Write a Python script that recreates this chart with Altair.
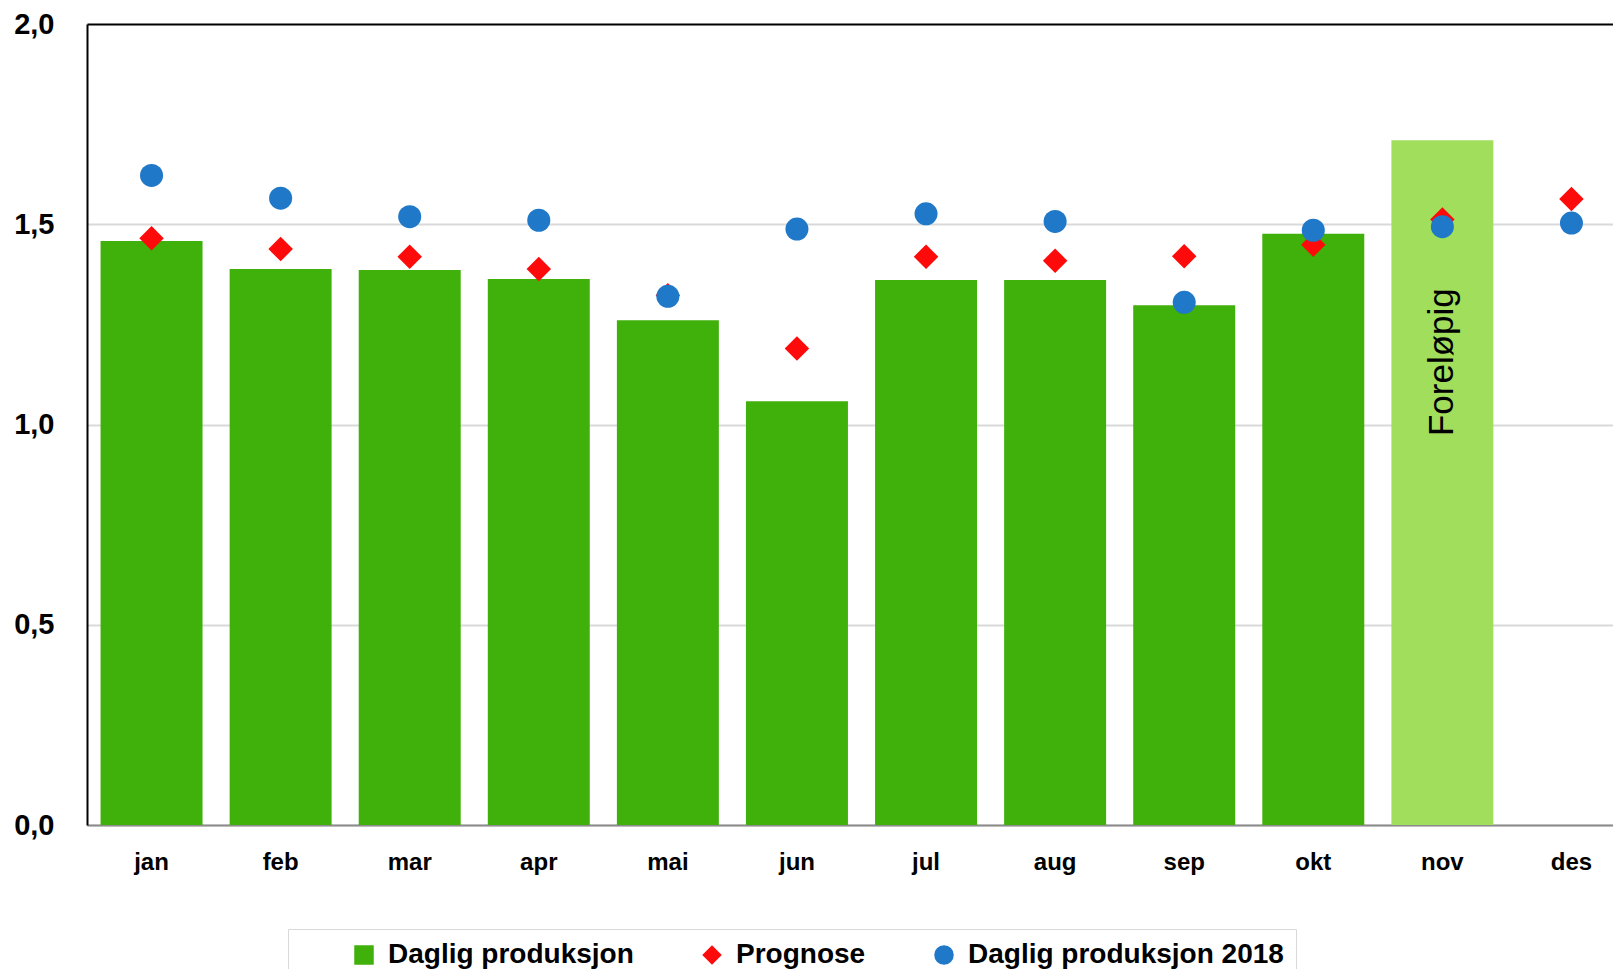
import altair as alt
import pandas as pd

maaneder = ["jan", "feb", "mar", "apr", "mai", "jun", "jul", "aug", "sep", "okt", "nov", "des"]
daglig = [1.458, 1.388, 1.386, 1.363, 1.260, 1.058, 1.361, 1.361, 1.298, 1.476, 1.710, None]
foreloepig = [False] * 10 + [True, False]
merknad = [""] * 10 + ["Foreløpig", ""]
prognose = [1.465, 1.438, 1.419, 1.388, 1.323, 1.190, 1.419, 1.409, 1.420, 1.449, 1.512, 1.563]
daglig_2018 = [1.622, 1.565, 1.519, 1.510, 1.320, 1.488, 1.526, 1.507, 1.305, 1.485, 1.494, 1.503]
serier = ["Daglig produksjon", "Prognose", "Daglig produksjon 2018"]
farger = ["#3FB10A", "#FF0A0A", "#1F78C8"]
former = ["square", "diamond", "circle"]
y_ticks = [0, 0.5, 1.0, 1.5, 2.0]

bar_df = pd.DataFrame({"maaned": maaneder, "verdi": daglig, "foreloepig": foreloepig,
                       "merknad": merknad, "serie": serier[0]}).dropna(subset=["verdi"])
prog_df = pd.DataFrame({"maaned": maaneder, "verdi": prognose, "serie": serier[1]})
p18_df = pd.DataFrame({"maaned": maaneder, "verdi": daglig_2018, "serie": serier[2]})

FONT = "Liberation Sans"

x_enc = alt.X("maaned:N", sort=maaneder,
              scale=alt.Scale(domain=maaneder, range=[0, 1549], paddingInner=0.21, paddingOuter=0.105),
              axis=alt.Axis(title=None, labelAngle=0, labelFontSize=24, labelFontWeight="bold",
                            labelColor="black", labelFont=FONT, labelPadding=25, ticks=False, tickSize=0,
                            domainColor="#8C8C8C", domainWidth=2, labelBaseline="top"))

y_axis = alt.Axis(title=None, values=y_ticks,
                  labelExpr="replace(format(datum.value, '.1f'), '.', ',')",
                  labelFontSize=29, labelFontWeight="bold", labelColor="black", labelFont=FONT,
                  labelPadding=33, ticks=False, tickSize=0, domainColor="black", domainWidth=2,
                  gridColor={"condition": {"test": "datum.value == 2", "value": "black"}, "value": "#D9D9D9"},
                  gridWidth=2)
y_enc = alt.Y("verdi:Q", scale=alt.Scale(domain=[0, 2], nice=False, zero=True), axis=y_axis)

color_scale = alt.Scale(domain=serier, range=farger)
shape_scale = alt.Scale(domain=serier, range=former)

bars = alt.Chart(bar_df).mark_bar().encode(
    x=x_enc,
    y=y_enc,
    color=alt.condition(alt.datum.foreloepig,
                        alt.value("#A0DE5C"),
                        alt.Color("serie:N", scale=color_scale, legend=alt.Legend(title=None))),
)

tekst = alt.Chart(bar_df).transform_filter(alt.datum.foreloepig).mark_text(
    angle=270, dx=-222, fontSize=35, font=FONT, color="black", align="center", baseline="middle"
).encode(x=x_enc, y=y_enc, text="merknad:N")

diamanter = alt.Chart(prog_df).mark_point(filled=True, size=600, opacity=1).encode(
    x=x_enc, y=y_enc,
    color=alt.Color("serie:N", scale=color_scale, legend=alt.Legend(title=None)),
    shape=alt.Shape("serie:N", scale=shape_scale, legend=alt.Legend(title=None)),
)

sirkler = alt.Chart(p18_df).mark_point(filled=True, size=530, opacity=1).encode(
    x=x_enc, y=y_enc,
    color=alt.Color("serie:N", scale=color_scale, legend=alt.Legend(title=None)),
    shape=alt.Shape("serie:N", scale=shape_scale, legend=alt.Legend(title=None)),
)

chart = alt.layer(bars, tekst, diamanter, sirkler).properties(
    width=1526, height=801,
    autosize=alt.AutoSizeParams(type="none"),
    padding={"left": 79, "top": 16, "right": 0, "bottom": 144},
).configure_view(stroke=None).configure_legend(
    orient="none", legendX=201, legendY=905, direction="horizontal",
    strokeColor="#D9D9D9", fillColor="white", padding=12,
    labelFontSize=28, labelFontWeight="bold", labelFont=FONT, labelColor="black",
    symbolSize=380, symbolOffset=50, columnPadding=14, labelOffset=10,
    symbolStrokeWidth=0, labelLimit=500,
)

chart.save("out.html", embed_options={"renderer": "svg", "actions": False})
